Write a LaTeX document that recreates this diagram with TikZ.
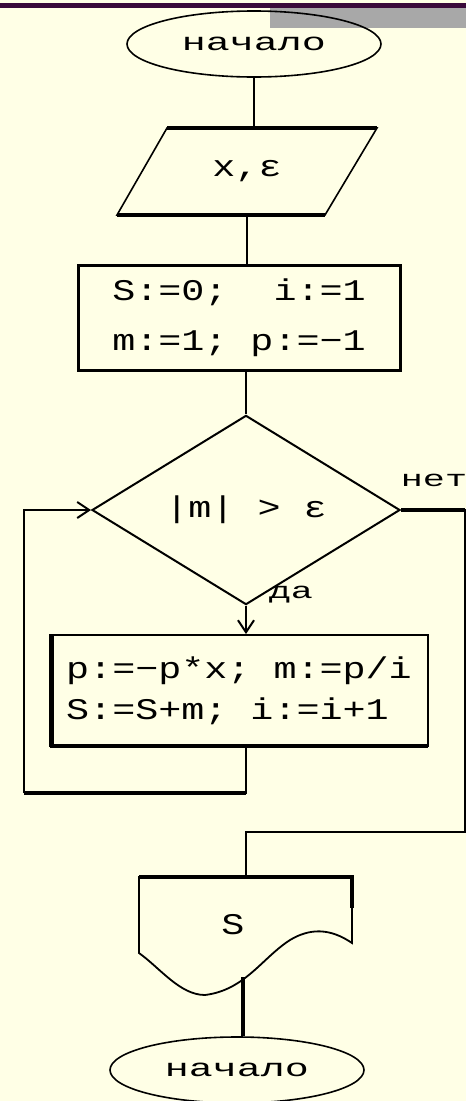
\documentclass[tikz,border=0pt]{standalone}
\usepackage{fontspec}
\usetikzlibrary{shapes.geometric,arrows.meta}
\newfontfamily\boxfont{Liberation Mono}[FakeStretch=1.28]
\newfontfamily\ovalfont{Liberation Mono}[FakeStretch=1.6]
\definecolor{bg}{RGB}{255,255,230}
\definecolor{barc}{RGB}{58,10,58}
\definecolor{tabc}{RGB}{168,168,168}
\begin{document}
\begin{tikzpicture}[x=1pt,y=-1pt,
  terminal/.style={ellipse, draw, line width=1.6pt, minimum width=254pt, minimum height=66pt, inner sep=0pt, font=\ovalfont\fontsize{25}{30}\selectfont},
  proc/.style={rectangle, draw, line width=3pt, align=left, inner sep=0pt, font=\boxfont\fontsize{30}{36}\selectfont},
  txt/.style={inner sep=0pt, font=\boxfont\fontsize{30}{36}\selectfont},
  lbl/.style={inner sep=0pt, font=\ovalfont\fontsize{23}{28}\selectfont},
  conn/.style={line width=2pt},
  heavy/.style={line width=4.5pt},
  barb/.style={-{Straight Barb[length=12pt,width=16pt,line width=2pt]}}
]
\useasboundingbox (0,0) rectangle (466,1101);
\fill[bg] (0,0) rectangle (466,1101);
\fill[barc] (0,3) rectangle (466,8);
\fill[tabc] (270,8) rectangle (466,28);

% start
\node[terminal] (start) at (254,44) {начало};

% input parallelogram
\node[txt, minimum width=260pt, minimum height=87pt] (io) at (247,171.5) {x,ε};
\draw[line width=1.6pt] (167,128) -- (377,128) -- (325,215) -- (117,215) -- cycle;
\draw[heavy] (167,128) -- (377,128);
\draw[heavy] (117,215) -- (325,215);

% init box
\node[proc, minimum width=322pt, minimum height=105pt] (init) at (239,317.5)
  {S:=0;\ \ i:=1\\[14pt]m:=1; p:=−1};

% decision
\node[diamond, draw, line width=2pt, minimum width=308pt, minimum height=144pt, inner sep=0pt, txt] (dec) at (246,510) {|m| > ε};

% body box
\node[proc, line width=2pt, minimum width=378pt, minimum height=111pt] (body) at (239,690.5)
  {p:=−p*x; m:=p/i\\[5pt]S:=S+m; i:=i+1};
\draw[heavy] (52,635) -- (52,746) -- (428,746);

% labels
\node[lbl] (no) at (434,480) {нет};
\node[lbl] (yes) at (291,595) {да};

% output (display) shape
\node[txt, minimum width=213pt, minimum height=118pt] (out) at (245.5,936) {};
\draw[line width=1.8pt] (139,877) -- (352,877) -- (352,943)
  .. controls (330,928) and (310,928) .. (290,940)
  .. controls (262,958) and (245,990) .. (205,995)
  .. controls (180,995) and (160,968) .. (139,953) -- cycle;
\draw[heavy] (139,877) -- (352,877) -- (352,908);
\node[txt] (s) at (233,925) {S};
\coordinate (outb) at (243,977);

% end
\node[terminal] (end) at (237,1070) {начало};

% connectors
\coordinate (lb) at (24,793);
\coordinate (rb) at (465,832);
\draw[conn] (start.south) -- (start.south |- io.north);
\draw[conn] (io.south) -- (io.south |- init.north);
\draw[conn] (dec.north |- init.south) -- (dec.north);
\draw[conn, barb] (dec.south) -- (dec.south |- body.north);
\draw[conn] (dec.south |- body.south) |- (lb);
\draw[heavy] (dec.south |- lb) -- (lb);
\draw[conn, barb] (lb) |- (dec.west);
\draw[conn] (dec.east) -| (rb) -| (out.north);
\draw[heavy] (dec.east) -- (dec.east -| rb);
\draw[heavy] (outb) -- (outb |- end.north);
\end{tikzpicture}
\end{document}
